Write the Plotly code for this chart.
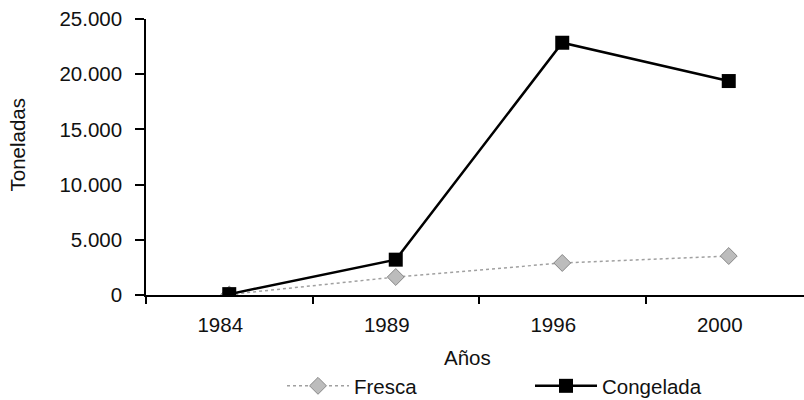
import plotly.graph_objects as go

years = ["1984", "1989", "1996", "2000"]
fresca = [50, 1630, 2900, 3530]
congelada = [80, 3200, 22850, 19380]
y_ticks = [0, 5000, 10000, 15000, 20000, 25000]

W, H = 804, 400
L, T, B = 146, 19, 105
plot_w = W - L
plot_h = H - T - B
unit = 166.5
x_pos = list(range(len(years)))
x_max = -0.5 + plot_w / unit
label_shift = 9 / unit  # labels sit slightly left of the points in the reference
label_pos = [p - label_shift for p in x_pos]

font = dict(family="Liberation Sans, Arial, sans-serif", size=20.5, color="#111111")


def px_x(p):
    return (p - L) / plot_w


def px_y(p):
    return (T + plot_h - p) / plot_h


fig = go.Figure()
fig.add_trace(go.Scatter(
    x=x_pos, y=fresca, name="Fresca", mode="lines+markers",
    line=dict(color="#a0a0a0", width=1.5, dash="dot"),
    marker=dict(symbol="diamond", size=13, color="#bcbcbc",
                line=dict(color="#888888", width=1)),
    legend="legend",
))
fig.add_trace(go.Scatter(
    x=x_pos, y=congelada, name="Congelada", mode="lines+markers",
    line=dict(color="#000000", width=2.5),
    marker=dict(symbol="square", size=14, color="#000000"),
    legend="legend2",
))

leg_common = dict(orientation="h", xanchor="left", yanchor="middle",
                  font=font, itemwidth=62, bgcolor="rgba(0,0,0,0)",
                  borderwidth=0)

fig.update_layout(
    width=W, height=H,
    margin=dict(l=L, r=0, t=T, b=B, pad=0, autoexpand=False),
    paper_bgcolor="white", plot_bgcolor="white",
    font=font,
    separators=",.",
    showlegend=True,
    legend=dict(x=px_x(282), y=px_y(386), **leg_common),
    legend2=dict(x=px_x(530), y=px_y(386), **leg_common),
    xaxis=dict(
        range=[-0.5, x_max], tickmode="array", tickvals=label_pos, ticktext=years,
        ticks="", showgrid=False, zeroline=False,
        showline=True, linecolor="#000000", linewidth=2,
        tickfont=font, ticklabelstandoff=10,
        minor=dict(tickmode="array", tickvals=[-0.5, 0.5, 1.5, 2.5],
                   ticks="outside", ticklen=7, tickwidth=1.5, tickcolor="#000000",
                   showgrid=False),
    ),
    yaxis=dict(
        range=[0, 25000], tickmode="array", tickvals=y_ticks, tickformat=",d",
        ticks="outside", ticklen=9, tickwidth=1.5, tickcolor="#000000",
        showgrid=False, zeroline=False,
        showline=True, linecolor="#000000", linewidth=1.5,
        tickfont=font, ticklabelstandoff=9,
    ),
    annotations=[
        dict(text="Toneladas", textangle=-90, xref="paper", yref="paper",
             x=0, y=px_y(145), xanchor="center", yanchor="middle",
             xshift=16.5 - L, showarrow=False, font=font),
        dict(text="Años", xref="paper", yref="paper",
             x=px_x(467), y=px_y(357),
             xanchor="center", yanchor="middle", showarrow=False, font=font),
    ],
)

fig.write_html("out.html")
